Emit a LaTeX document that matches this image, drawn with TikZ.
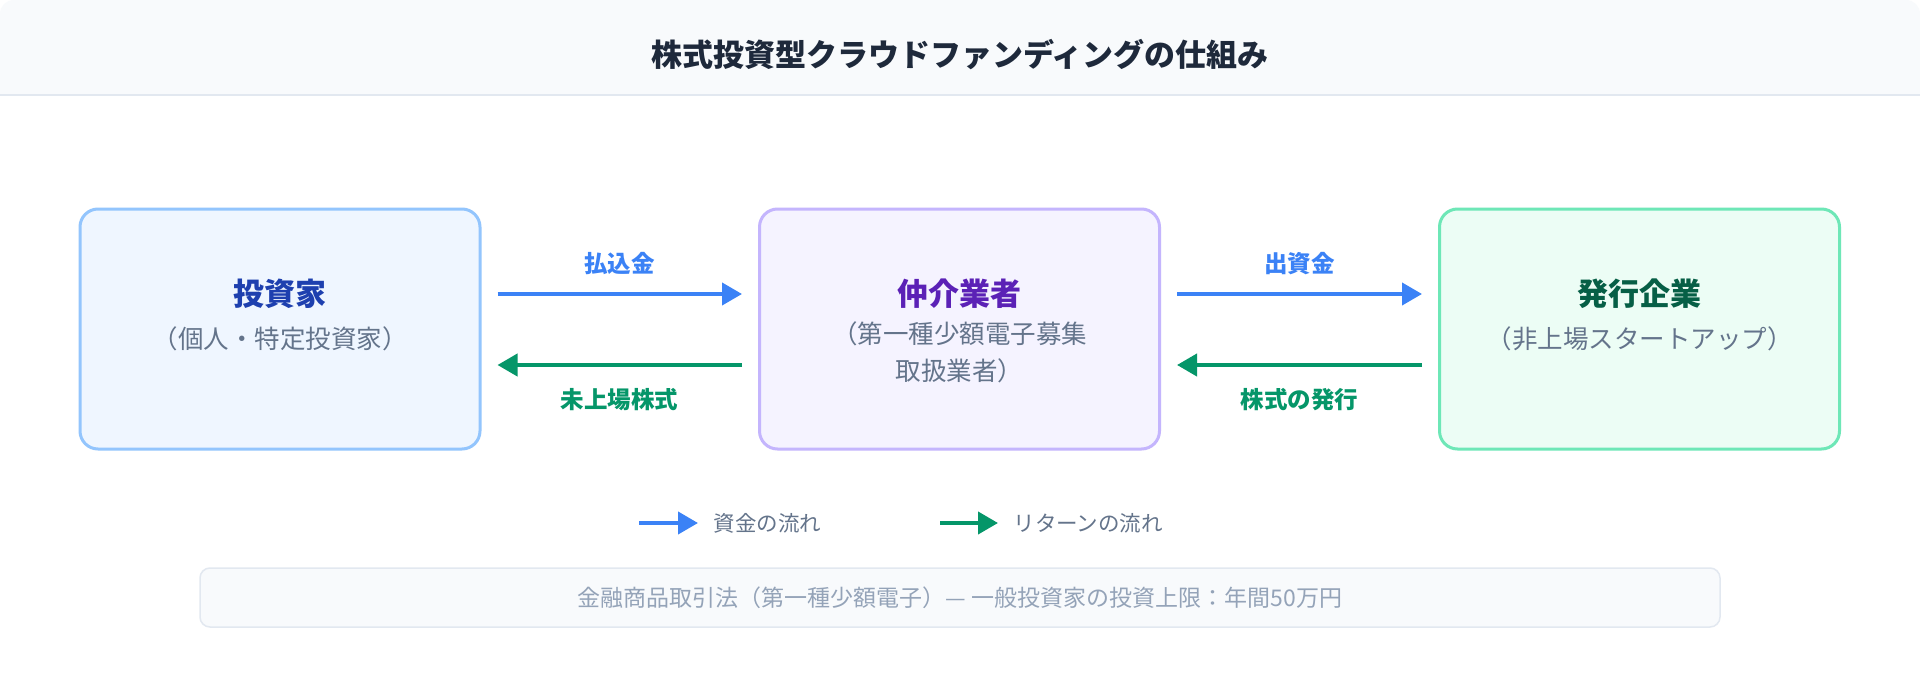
\documentclass[tikz,border=0pt]{standalone}
\usepackage{fontspec}
\setmainfont{Noto Sans CJK JP}
\usetikzlibrary{arrows.meta}
\definecolor{bluefill}{HTML}{EFF6FF}\definecolor{bluestroke}{HTML}{93C5FD}\definecolor{bluetxt}{HTML}{1E40AF}
\definecolor{purfill}{HTML}{F5F3FF}\definecolor{purstroke}{HTML}{C4B5FD}\definecolor{purtxt}{HTML}{5B21B6}
\definecolor{grnfill}{HTML}{ECFDF5}\definecolor{grnstroke}{HTML}{6EE7B7}\definecolor{grntxt}{HTML}{065F46}
\definecolor{flowblue}{HTML}{3B82F6}\definecolor{flowgreen}{HTML}{059669}
\definecolor{subgray}{HTML}{64748B}\definecolor{bar}{HTML}{F8FAFC}\definecolor{barline}{HTML}{E2E8F0}
\definecolor{foottxt}{HTML}{94A3B8}\definecolor{titletxt}{HTML}{1E293B}
\begin{document}
\begin{tikzpicture}[x=1pt,y=-1pt,
 box/.style={draw,line width=3pt,rounded corners=18pt,minimum width=400pt,minimum height=240pt},
 ttl/.style={font=\fontsize{31}{36}\selectfont\bfseries},
 sub/.style={font=\fontsize{25.5}{37}\selectfont,text=subgray,align=center},
 flowb/.style={draw=flowblue,line width=4pt,-{Triangle[length=20pt,width=22pt]}},
 flowg/.style={draw=flowgreen,line width=4pt,-{Triangle[length=20pt,width=22pt]}},
 lbl/.style={font=\fontsize{23.5}{28}\selectfont\bfseries},
 leg/.style={font=\fontsize{21.5}{26}\selectfont,text=subgray,anchor=west}]
\useasboundingbox (0,0) rectangle (1920,680);
\fill[white] (0,0) rectangle (1920,680);
\fill[bar,rounded corners=14pt] (0,0) rectangle (1920,40);
\fill[bar] (0,20) rectangle (1920,95);
\draw[barline,line width=1.5pt] (0,95) -- (1920,95);
\node[font=\fontsize{31}{36}\selectfont\bfseries,text=titletxt] (title) at (960,55) {株式投資型クラウドファンディングの仕組み};

\node[box,draw=bluestroke,fill=bluefill] (inv) at (280,329) {};
\node[ttl,text=bluetxt] (invt) at (280,294) {投資家};
\node[sub] (invs) at (280,339) {（個人・特定投資家）};

\node[box,draw=purstroke,fill=purfill] (mid) at (959.5,329) {};
\node[ttl,text=purtxt] (midt) at (959.5,294) {仲介業者};
\node[sub,anchor=north] (mids) at (959.5,318) {（第一種少額電子募集\\取扱業者）};

\node[box,draw=grnstroke,fill=grnfill] (iss) at (1639.5,329) {};
\node[ttl,text=grntxt] (isst) at (1639.5,294) {発行企業};
\node[sub] (isss) at (1639.5,339) {（非上場スタートアップ）};

\draw[flowb] ([xshift=16pt,yshift=35pt]inv.east) -- ([xshift=-16pt,yshift=35pt]mid.west);
\draw[flowg] ([xshift=-16pt,yshift=-36pt]mid.west) -- ([xshift=16pt,yshift=-36pt]inv.east);
\draw[flowb] ([xshift=16pt,yshift=35pt]mid.east) -- ([xshift=-16pt,yshift=35pt]iss.west);
\draw[flowg] ([xshift=-16pt,yshift=-36pt]iss.west) -- ([xshift=16pt,yshift=-36pt]mid.east);
\node[lbl,text=flowblue] (l1) at (619.5,264) {払込金};
\node[lbl,text=flowgreen] (l2) at (619.5,400) {未上場株式};
\node[lbl,text=flowblue] (l3) at (1299.5,264) {出資金};
\node[lbl,text=flowgreen] (l4) at (1299.5,400) {株式の発行};

\coordinate (lb1) at (639,523); \coordinate (lb2) at (698,523);
\draw[flowb] (lb1) -- (lb2);
\node[leg] (lbt) at (710,523) {資金の流れ};
\coordinate (lg1) at (940,523); \coordinate (lg2) at (998,523);
\draw[flowg] (lg1) -- (lg2);
\node[leg] (lgt) at (1010,523) {リターンの流れ};

\node[draw=barline,fill=bar,line width=1.5pt,rounded corners=10pt,minimum width=1520pt,minimum height=59pt,
 font=\fontsize{23}{27}\selectfont,text=foottxt] (foot) at (960,597.5) {金融商品取引法（第一種少額電子）— 一般投資家の投資上限：年間50万円};
\end{tikzpicture}
\end{document}
